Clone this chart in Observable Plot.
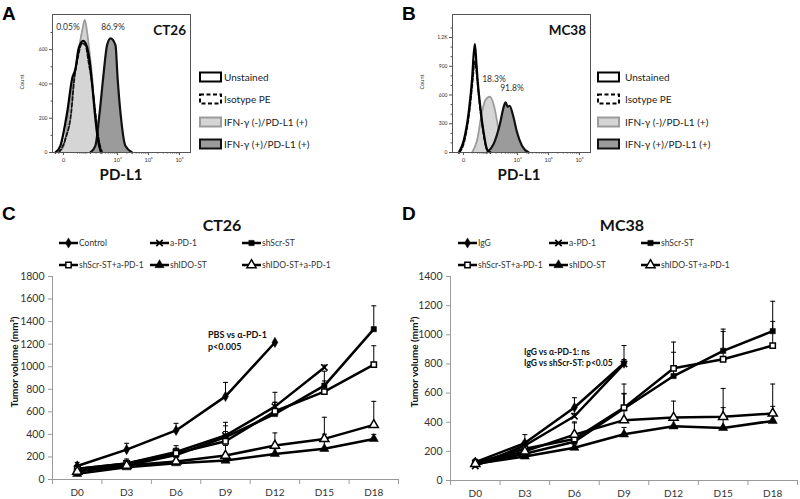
<!DOCTYPE html>
<html><head><meta charset="utf-8">
<script src="https://cdn.jsdelivr.net/npm/d3@7"></script>
<script src="https://cdn.jsdelivr.net/npm/@observablehq/plot@0.6"></script>
<style>
body{margin:0;background:#fff;}
#root{position:relative;width:800px;height:499px;overflow:hidden;background:#fff;}
#root > svg, #root > figure{position:absolute;}
</style></head>
<body><div id="root"></div>
<script>
// ---------- Flow cytometry histograms (x in decade units: 10^3 = 3) ----------
const histXTicks = [1.25, 3, 4, 5];
const histXTickLabels = ["0", "10³", "10⁴", "10⁵"];
const aYTicks = [0, 200, 400, 600];
const aYTickLabels = ["0", "200", "400", "600"];
const bYTicks = [0, 300, 600, 900, 1200];
const bYTickLabels = ["0", "300", "600", "900", "1.2K"];

const aUnstained = [[0.99,0],[1.15,39],[1.37,235],[1.53,431],[1.64,490],[1.74,608],[1.89,651],[1.99,627],[2.10,529],[2.18,392],[2.26,235],[2.36,78],[2.46,0]];
const aIsotype = [[1.10,0],[1.31,78],[1.50,235],[1.60,431],[1.71,549],[1.85,637],[1.96,627],[2.06,529],[2.18,392],[2.28,235],[2.39,78],[2.50,0]];
const aNeg = [[1.10,0],[1.26,39],[1.42,235],[1.58,431],[1.71,568],[1.85,706],[1.94,774],[2.01,706],[2.09,588],[2.18,431],[2.26,235],[2.36,78],[2.50,0]];
const aPos = [[2.12,0],[2.28,39],[2.42,235],[2.53,431],[2.66,627],[2.77,666],[2.93,627],[3.00,431],[3.09,235],[3.25,39],[3.47,0]];

const bUnstained = [[1.10,0],[1.26,127],[1.42,424],[1.53,777],[1.58,1025],[1.62,1131],[1.67,919],[1.71,742],[1.80,459],[1.90,212],[2.01,35],[2.12,0]];
const bIsotype = [[1.12,0],[1.28,120],[1.44,420],[1.55,760],[1.61,950],[1.65,900],[1.70,740],[1.79,450],[1.89,210],[2.00,35],[2.11,0]];
const bNeg = [[1.53,0],[1.69,127],[1.85,424],[1.96,548],[2.10,583],[2.23,495],[2.34,318],[2.44,127],[2.60,0]];
const bPos = [[2.01,0],[2.23,92],[2.42,286],[2.55,477],[2.61,523],[2.68,477],[2.74,488],[2.85,389],[2.98,212],[3.14,71],[3.36,0]];

const histLegend = ["Unstained", "Isotype PE", "IFN-γ (-)/PD-L1 (+)", "IFN-γ (+)/PD-L1 (+)"];

// ---------- Tumor growth ----------
const days = [0, 3, 6, 9, 12, 15, 18];
const dayLabels = ["D0", "D3", "D6", "D9", "D12", "D15", "D18"];
const ctYTicks = [0, 200, 400, 600, 800, 1000, 1200, 1400, 1600, 1800];
const mcYTicks = [0, 200, 400, 600, 800, 1000, 1200, 1400];

const ctSeries = ["Control", "a-PD-1", "shScr-ST", "shScr-ST+a-PD-1", "shIDO-ST", "shIDO-ST+a-PD-1"];
const ctControl = [120, 265, 435, 737, 1215];
const ctControlErr = [32, 56, 63, 124, 0];
const ctAPD1 = [95, 142, 245, 390, 646, 994];
const ctAPD1Err = [20, 40, 55, 117, 127, 20];
const ctShScr = [80, 124, 217, 376, 581, 832, 1333];
const ctShScrErr = [18, 35, 55, 100, 103, 128, 207];
const ctShScrAPD1 = [94, 141, 233, 339, 605, 779, 1018];
const ctShScrAPD1Err = [20, 30, 45, 86, 80, 95, 168];
const ctShIDO = [50, 109, 145, 168, 227, 272, 360];
const ctShIDOErr = [15, 20, 20, 30, 45, 130, 40];
const ctShIDOAPD1 = [70, 124, 160, 212, 301, 360, 484];
const ctShIDOAPD1Err = [25, 30, 45, 90, 112, 192, 209];

const mcSeries = ["IgG", "a-PD-1", "shScr-ST", "shScr-ST+a-PD-1", "shIDO-ST", "shIDO-ST+a-PD-1"];
const mcIgG = [126, 257, 501, 805];
const mcIgGErr = [20, 58, 67, 121];
const mcAPD1 = [100, 240, 441, 800];
const mcAPD1Err = [15, 30, 20, 30];
const mcShScr = [110, 184, 266, 494, 717, 890, 1025];
const mcShScrErr = [20, 30, 60, 100, 163, 149, 205];
const mcShScrAPD1 = [120, 218, 285, 500, 770, 832, 926];
const mcShScrAPD1Err = [20, 35, 117, 162, 180, 191, 166];
const mcShIDO = [115, 165, 225, 317, 372, 361, 409];
const mcShIDOErr = [15, 20, 30, 47, 40, 139, 100];
const mcShIDOAPD1 = [115, 200, 315, 414, 432, 437, 460];
const mcShIDOAPD1Err = [20, 40, 80, 184, 113, 195, 202];

// marker styles for the six groups (same order in both experiments)
const markerSymbols = ["diamond", "times", "square", "square", "triangle", "triangle"];
const markerOpen = [false, false, false, true, false, true];

// ---------- helpers ----------
const root = document.getElementById("root");
const FONT = "Lato, 'Open Sans', sans-serif";
const num = d3.format("d");

function place(node, left, top) {
  node.style.position = "absolute";
  node.style.left = left + "px";
  node.style.top = top + "px";
  root.appendChild(node);
}

const xMinor = [];
for (const n of [1, 2, 3, 4]) for (let k = (n === 1 ? 5 : 1); k <= 9; k++) {
  const v = n + Math.log10(k);
  if (!histXTicks.includes(v)) xMinor.push(v);
}

function markerR(sym) { return sym === "triangle" ? 3.4 : (sym === "diamond" ? 3.1 : (sym === "times" ? 3 : 3)); }

function histPlot(yMax, yTicks, yTickLabels, yMinor, unstained, isotype, neg, pos) {
  const px = d => d[0], py = d => d[1];
  const curve = "monotone-x";
  return Plot.plot({
    width: 200, height: 190,
    marginLeft: 52, marginRight: 10, marginTop: 14, marginBottom: 38,
    style: {fontFamily: FONT, background: "transparent", overflow: "visible", color: "#333"},
    x: {domain: [0.895, 5.355], label: null},
    y: {domain: [0, yMax], label: null},
    marks: [
      Plot.areaY(neg, {x: px, y: py, fill: "#d5d5d5", curve}),
      Plot.areaY(pos, {x: px, y: py, fill: "#9b9b9b", curve}),
      Plot.lineY(neg, {x: px, y: py, stroke: "#9c9c9c", strokeWidth: 1.8, curve}),
      Plot.lineY(pos, {x: px, y: py, stroke: "#111", strokeWidth: 2.2, curve}),
      Plot.lineY(isotype, {x: px, y: py, stroke: "#111", strokeWidth: 1.8, strokeDasharray: "4,2", curve}),
      Plot.lineY(unstained, {x: px, y: py, stroke: "#000", strokeWidth: 2.2, curve}),
      Plot.frame({stroke: "#555"}),
      Plot.axisY({ticks: yTicks, label: null, tickFormat: d => yTickLabels[yTicks.indexOf(d)], tickSize: 3, tickPadding: 2, fontSize: 5, stroke: "#555"}),
      Plot.axisY({ticks: yMinor, label: null, tickFormat: () => "", tickSize: 1.5, stroke: "#555"}),
      Plot.axisX({ticks: histXTicks, label: null, tickFormat: d => histXTickLabels[histXTicks.indexOf(d)], tickSize: 3, tickPadding: 3, fontSize: 5.5, stroke: "#555"}),
      Plot.axisX({ticks: xMinor, label: null, tickFormat: () => "", tickSize: 1.6, stroke: "#555"})
    ]
  });
}

function rowsFrom(names, values, errs) {
  const rows = [];
  names.forEach((name, i) => {
    values[i].forEach((v, j) => rows.push({series: name, idx: i, day: days[j], value: v, err: errs[i][j]}));
  });
  return rows;
}

const capSymbol = {draw(ctx, size) { const r = Math.sqrt(size / Math.PI); ctx.moveTo(-r, 0); ctx.lineTo(r, 0); }};

function growthPlot(rows, names, yMax, yTicks, marginLeft, marginRight, marginBottom) {
  const xDomain = [days[0] - 1.5, days[days.length - 1] + 1.5];
  const separators = days.map(d => d - 1.5).concat([days[days.length - 1] + 1.5]);
  const withErr = rows.filter(d => d.err > 0);
  const dotMarks = names.map((name, i) => Plot.dot(rows.filter(d => d.idx === i), {
    x: "day", y: "value",
    symbol: markerSymbols[i],
    r: markerR(markerSymbols[i]),
    fill: markerSymbols[i] === "times" ? "none" : (markerOpen[i] ? "#fff" : "#000"),
    stroke: "#000", strokeWidth: markerSymbols[i] === "times" ? 1.6 : (markerOpen[i] ? 1.5 : 0.5)
  }));
  return Plot.plot({
    width: 400, height: 233,
    marginLeft, marginRight, marginTop: 10, marginBottom,
    style: {fontFamily: FONT, background: "transparent", overflow: "visible", color: "#333"},
    x: {domain: xDomain, label: null},
    y: {domain: [0, yMax], label: null},
    marks: [
      Plot.ruleY([0], {stroke: "#9a9a9a"}),
      Plot.ruleX([xDomain[0]], {stroke: "#9a9a9a"}),
      Plot.axisY({ticks: yTicks, label: null, tickFormat: num, tickSize: 4, tickPadding: 4, fontSize: 10.5, stroke: "#9a9a9a", fill: "#333"}),
      Plot.axisX({ticks: separators, label: null, tickFormat: () => "", tickSize: 5, stroke: "#9a9a9a"}),
      Plot.axisX({ticks: days, label: null, tickFormat: d => dayLabels[days.indexOf(d)], tickSize: 0, tickPadding: 9, fontSize: 10, fill: "#333"}),
      Plot.ruleX(withErr, {x: "day", y1: "value", y2: d => d.value + d.err, stroke: "#000", strokeWidth: 1}),
      Plot.dot(withErr, {x: "day", y: d => d.value + d.err, symbol: capSymbol, r: 2.5, fill: "none", stroke: "#000", strokeWidth: 1}),
      Plot.line(rows, {x: "day", y: "value", z: "series", stroke: "#000", strokeWidth: 2.5}),
      ...dotMarks
    ]
  });
}

// ---------- build plots ----------
place(histPlot(805, aYTicks, aYTickLabels, [100, 300, 500, 700], aUnstained, aIsotype, aNeg, aPos), 0, 0);
place(histPlot(1440, bYTicks, bYTickLabels, [100, 200, 400, 500, 700, 800, 1000, 1100, 1300], bUnstained, bIsotype, bNeg, bPos), 400, 0);

const ctRows = rowsFrom(ctSeries, [ctControl, ctAPD1, ctShScr, ctShScrAPD1, ctShIDO, ctShIDOAPD1],
  [ctControlErr, ctAPD1Err, ctShScrErr, ctShScrAPD1Err, ctShIDOErr, ctShIDOAPD1Err]);
const mcRows = rowsFrom(mcSeries, [mcIgG, mcAPD1, mcShScr, mcShScrAPD1, mcShIDO, mcShIDOAPD1],
  [mcIgGErr, mcAPD1Err, mcShScrErr, mcShScrAPD1Err, mcShIDOErr, mcShIDOAPD1Err]);

place(growthPlot(ctRows, ctSeries, 1800, ctYTicks, 52, 2, 20), 0, 266);
place(growthPlot(mcRows, mcSeries, 1400, mcYTicks, 50, 3, 19), 400, 266);

// ---------- overlay texts & legends ----------
const svg = d3.select(root).append("svg")
  .attr("width", 800).attr("height", 499)
  .style("position", "absolute").style("left", "0px").style("top", "0px")
  .style("pointer-events", "none")
  .style("font-family", FONT);

function txt(s, x, y, o = {}) {
  const t = svg.append("text").attr("x", x).attr("y", y)
    .attr("font-size", o.size || 10)
    .attr("font-weight", o.bold ? "bold" : "normal")
    .attr("fill", o.color || "#222")
    .attr("text-anchor", o.anchor || "start")
    .text(s);
  if (o.family) t.attr("font-family", o.family);
  if (o.rotate) t.attr("transform", `rotate(${o.rotate},${x},${y})`);
  return t;
}

const LETTER = "'Liberation Sans', Arial, sans-serif";
txt("A", 2, 20, {size: 19, bold: true, family: LETTER, color: "#000"});
txt("B", 402, 20, {size: 19, bold: true, family: LETTER, color: "#000"});
txt("C", 2, 220, {size: 19, bold: true, family: LETTER, color: "#000"});
txt("D", 402, 220, {size: 19, bold: true, family: LETTER, color: "#000"});

// histogram texts
txt("CT26", 186, 35, {size: 13.5, bold: true, anchor: "end", color: "#111"});
txt("MC38", 586, 35, {size: 13.5, bold: true, anchor: "end", color: "#111"});
txt("0.05%", 68, 29.5, {size: 8.5, anchor: "middle", color: "#333"});
txt("86.9%", 113, 30, {size: 8.5, anchor: "middle", color: "#333"});
txt("18.3%", 494, 81.5, {size: 8.5, anchor: "middle", color: "#333"});
txt("91.8%", 512, 90.5, {size: 8.5, anchor: "middle", color: "#333"});
txt("Count", 24, 82, {size: 5.5, anchor: "middle", rotate: -90, color: "#333"});
txt("Count", 424, 82, {size: 5.5, anchor: "middle", rotate: -90, color: "#333"});
txt("PD-L1", 121, 180, {size: 15, bold: true, anchor: "middle", color: "#111"});
txt("PD-L1", 519, 180, {size: 15, bold: true, anchor: "middle", color: "#111"});

const histBoxStyles = [
  {fill: "#fff", stroke: "#000", dash: null},
  {fill: "#fff", stroke: "#000", dash: "4,2.5"},
  {fill: "#d5d5d5", stroke: "#9c9c9c", dash: null},
  {fill: "#9b9b9b", stroke: "#111", dash: null}
];
const histRowY = [77, 99, 122, 144];
for (const [bx, tx] of [[200, 224], [598, 625]]) {
  histLegend.forEach((name, i) => {
    const s = histBoxStyles[i];
    const r = svg.append("rect").attr("x", bx).attr("y", histRowY[i] - 4.5).attr("width", 21).attr("height", 9)
      .attr("fill", s.fill).attr("stroke", s.stroke).attr("stroke-width", 2);
    if (s.dash) r.attr("stroke-dasharray", s.dash);
    txt(name, tx, histRowY[i] + 3.8, {size: 10, color: "#222"});
  });
}

// growth chart texts
txt("CT26", 222, 231, {size: 16, bold: true, anchor: "middle", color: "#111"});
txt("MC38", 622, 231, {size: 16, bold: true, anchor: "middle", color: "#111"});
txt("Tumor volume (mm³)", 18, 362, {size: 10, bold: true, anchor: "middle", rotate: -90, color: "#111"});
txt("Tumor volume (mm³)", 418, 362, {size: 10, bold: true, anchor: "middle", rotate: -90, color: "#111"});
txt("PBS vs α-PD-1", 208, 338, {size: 9, bold: true, color: "#111"});
txt("p<0.005", 208, 349.5, {size: 9, bold: true, color: "#111"});
txt("IgG vs α-PD-1: ns", 524, 355, {size: 8.5, bold: true, color: "#111"});
txt("IgG vs shScr-ST: p<0.05", 524, 366, {size: 8.5, bold: true, color: "#111"});

const d3Sym = {diamond: d3.symbolDiamond, times: d3.symbolTimes, square: d3.symbolSquare, triangle: d3.symbolTriangle};
function growthLegend(names, colX, rowY) {
  names.forEach((name, i) => {
    const x0 = colX[i % 3], y0 = rowY[Math.floor(i / 3)];
    svg.append("line").attr("x1", x0).attr("x2", x0 + 19).attr("y1", y0).attr("y2", y0)
      .attr("stroke", "#000").attr("stroke-width", 2.5);
    const sym = markerSymbols[i];
    const r = markerR(sym);
    svg.append("path").attr("d", d3.symbol(d3Sym[sym], Math.PI * r * r)())
      .attr("transform", `translate(${x0 + 9.5},${y0})`)
      .attr("fill", sym === "times" ? "none" : (markerOpen[i] ? "#fff" : "#000"))
      .attr("stroke", "#000").attr("stroke-width", sym === "times" ? 1.6 : (markerOpen[i] ? 1.5 : 0.5));
    txt(name, x0 + 20, y0 + 3, {size: 8.5, color: "#333"});
  });
}
growthLegend(ctSeries, [59, 150, 242], [243, 265]);
growthLegend(mcSeries, [458, 549, 641], [243, 265]);
</script>
</body></html>
